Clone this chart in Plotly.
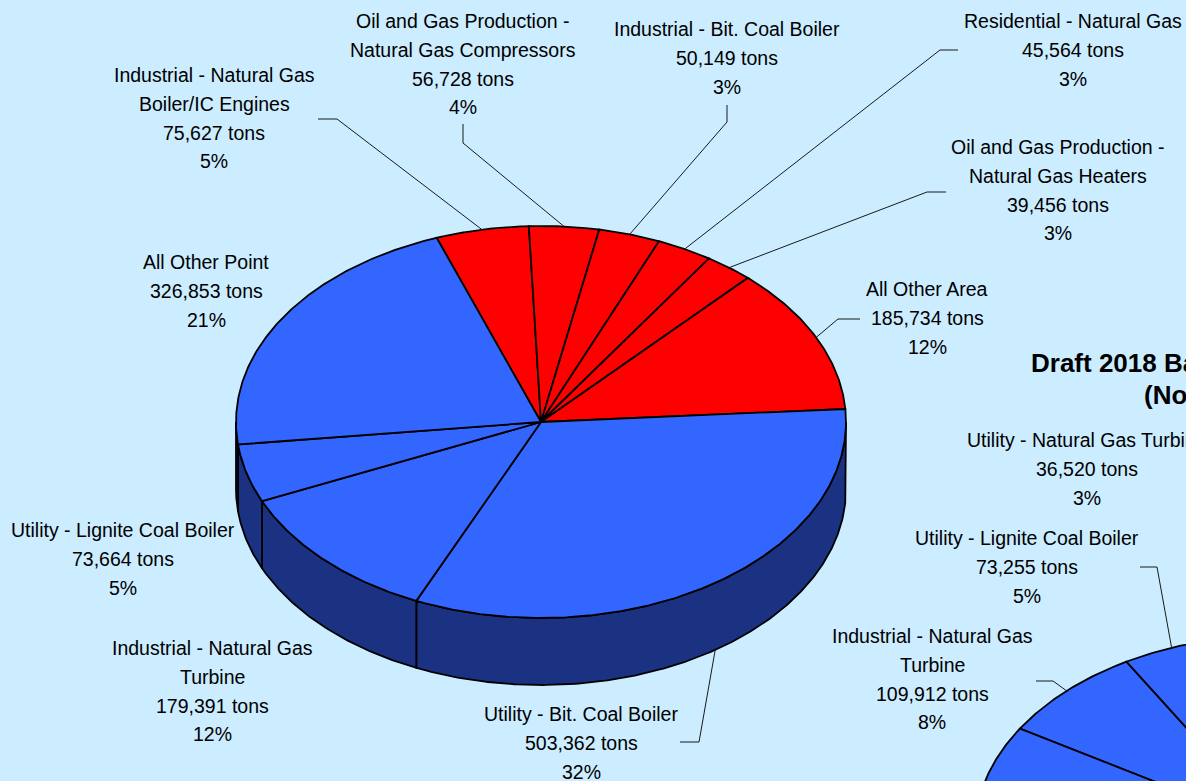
import numpy as np
import plotly.graph_objects as go

W, H = 1186, 781
BG = "#CCECFF"
BLUE = "#3366FF"
RED = "#FF0000"
SIDE_SHADE = {BLUE: "#1B3282", RED: "#8A0000"}
FONT = "Liberation Sans, Arial, sans-serif"
TEXT_SIZE = 19.5
LINE_GAP = 28.8

# ---------------- main pie (slices listed clockwise) ----------------
main_categories = [
    "Industrial - Natural Gas\nBoiler/IC Engines",
    "Oil and Gas Production -\nNatural Gas Compressors",
    "Industrial - Bit. Coal Boiler",
    "Residential - Natural Gas",
    "Oil and Gas Production -\nNatural Gas Heaters",
    "All Other Area",
    "Utility - Bit. Coal Boiler",
    "Industrial - Natural Gas\nTurbine",
    "Utility - Lignite Coal Boiler",
    "All Other Point",
]
main_tons = [75627, 56728, 50149, 45564, 39456, 185734, 503362, 179391, 73664, 326853]
main_percent = [5, 4, 3, 3, 3, 12, 32, 12, 5, 21]

# ---------------- second pie (partly in view) ----------------
second_categories = [
    "Industrial - Natural Gas\nTurbine",
    "Utility - Lignite Coal Boiler",
    "Utility - Natural Gas Turbine",
    "",  # remaining categories of this chart
]
second_tons = [109912, 73255, 36520, 1180000]
second_percent = [8, 5, 3, None]

second_title = ["Draft 2018 Base", "(Non"]

# ---------------- styling / placement ----------------
main_colors = [RED, RED, RED, RED, RED, RED, BLUE, BLUE, BLUE, BLUE]
second_colors = [BLUE, BLUE, BLUE, BLUE]

main_geom = dict(cx=541, cy=422, rx=305, ry=196, depth=67, start=110.0)
second_geom = dict(cx=1280, cy=831, rx=305, ry=196, depth=67, start=148.5)

# (label centre x, first line y, leader elbow points or None)
main_label_pos = [
    (214, 75, [(318, 119), (337, 119)]),
    (463, 21, [(463, 124), (463, 143)]),
    (727, 29, [(727, 105), (727, 122)]),
    (1073, 21, [(958, 50), (940, 50)]),
    (1058, 147, [(946, 192), (927, 192)]),
    (927, 289, [(860, 319), (838, 319)]),
    (581, 714, [(680, 742), (699, 742)]),
    (212, 648, None),
    (123, 530, None),
    (206, 262, None),
]
second_label_pos = [
    (932, 636, [(1036, 681), (1053, 681)]),
    (1027, 538, [(1140, 567), (1157, 567)]),
    (1087, 440, None),
    None,
]


def ell(g, ang, dz=0.0):
    t = np.radians(ang)
    return g["cx"] + g["rx"] * np.cos(t), g["cy"] - g["ry"] * np.sin(t) + dz


def slice_spans(values, start):
    total = float(sum(values))
    spans, a = [], start
    for v in values:
        s = 360.0 * v / total
        spans.append((a, a - s))
        a -= s
    return spans


fig = go.Figure()
annotations = []


def add_poly(xs, ys, fill, width=1.8):
    fig.add_trace(go.Scatter(
        x=list(xs), y=list(ys), mode="lines", fill="toself",
        fillcolor=fill, line=dict(color="#000000", width=width),
        hoverinfo="skip", showlegend=False))


def draw_pie(g, values, colors):
    spans = slice_spans(values, g["start"])
    # front wall of the disc
    for (a0, a1), col in zip(spans, colors):
        for k in range(-2, 2):
            lo = max(a1, 180 + 360 * k)
            hi = min(a0, 360 + 360 * k)
            if hi <= lo:
                continue
            n = max(4, int((hi - lo) * 2))
            angs = np.linspace(lo, hi, n)
            tx, ty = ell(g, angs)
            bx, by = ell(g, angs[::-1], g["depth"])
            add_poly(np.concatenate([tx, bx, tx[:1]]),
                     np.concatenate([ty, by, ty[:1]]),
                     SIDE_SHADE[col])
    # top faces
    for (a0, a1), col in zip(spans, colors):
        n = max(4, int((a0 - a1) * 2))
        angs = np.linspace(a0, a1, n)
        ex, ey = ell(g, angs)
        add_poly(np.concatenate([[g["cx"]], ex, [g["cx"]]]),
                 np.concatenate([[g["cy"]], ey, [g["cy"]]]), col)
    return spans


def draw_labels(g, spans, cats, values, pcts, places):
    for (a0, a1), name, v, p, place in zip(spans, cats, values, pcts, places):
        if place is None:
            continue
        x0, y0, elbow = place
        lines = name.split("\n") + [f"{v:,} tons", f"{p}%"]
        for i, txt in enumerate(lines):
            annotations.append(dict(
                x=x0, y=y0 + i * LINE_GAP, xref="x", yref="y", text=txt,
                showarrow=False, xanchor="center", yanchor="middle",
                font=dict(family=FONT, size=TEXT_SIZE, color="#000000")))
        if elbow:
            mid = (a0 + a1) / 2.0
            ex, ey = ell(g, mid)
            if np.sin(np.radians(mid)) < 0:
                ey += g["depth"]
            fig.add_trace(go.Scatter(
                x=[p_[0] for p_ in elbow] + [ex],
                y=[p_[1] for p_ in elbow] + [ey],
                mode="lines", line=dict(color="#1a1a1a", width=1),
                hoverinfo="skip", showlegend=False))


spans1 = draw_pie(main_geom, main_tons, main_colors)
spans2 = draw_pie(second_geom, second_tons, second_colors)
draw_labels(main_geom, spans1, main_categories, main_tons, main_percent, main_label_pos)
draw_labels(second_geom, spans2, second_categories, second_tons, second_percent, second_label_pos)

# title of the second chart
for txt, x0, y0 in zip(second_title, [1029, 1142], [363, 395]):
    annotations.append(dict(
        x=x0, y=y0, xref="x", yref="y", text=f"<b>{txt}</b>", showarrow=False,
        xanchor="left", yanchor="middle",
        font=dict(family=FONT, size=26, color="#000000")))

fig.update_layout(
    width=W, height=H,
    margin=dict(l=0, r=0, t=0, b=0, pad=0),
    paper_bgcolor=BG, plot_bgcolor=BG,
    xaxis=dict(range=[0, W], visible=False, fixedrange=True),
    yaxis=dict(range=[H, 0], visible=False, fixedrange=True),
    showlegend=False,
    annotations=annotations,
)

fig.write_html("out.html")
